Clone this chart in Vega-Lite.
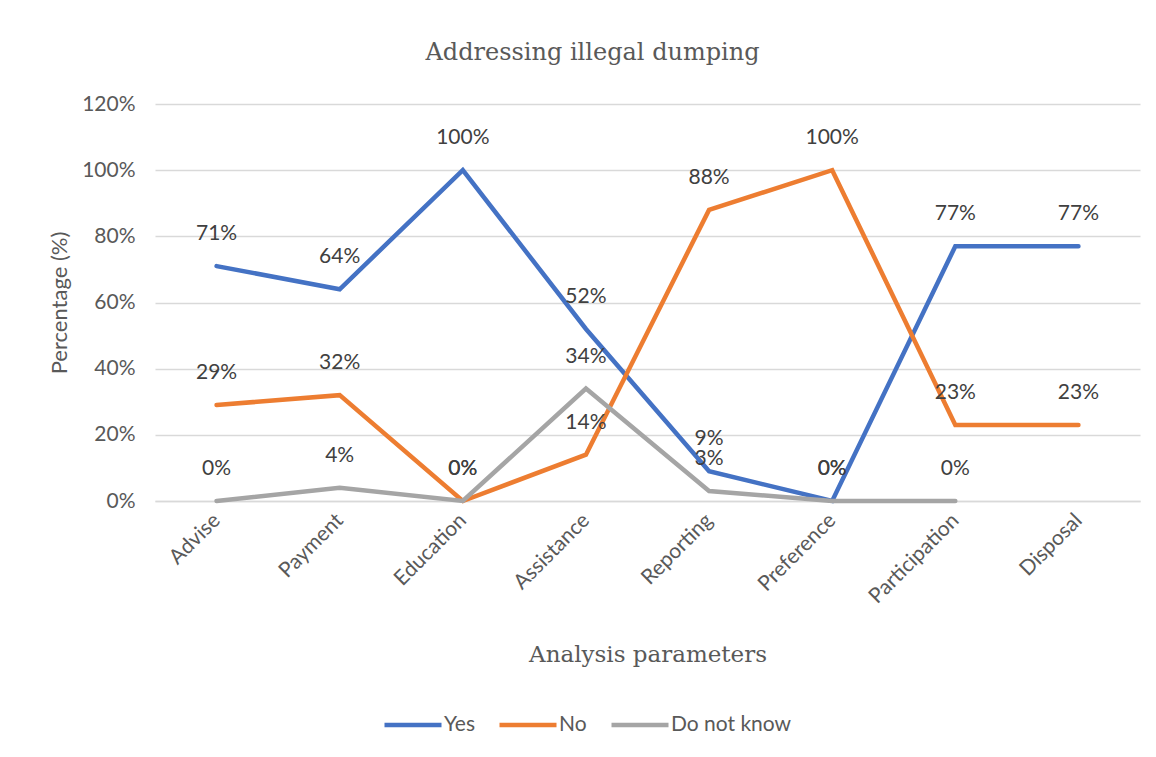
{
  "$schema": "https://vega.github.io/schema/vega-lite/v6.json",
  "width": 985,
  "height": 397,
  "autosize": {"type": "none"},
  "padding": {"left": 155, "top": 104, "right": 16, "bottom": 256},
  "background": "white",
  "title": {
    "text": "Addressing illegal dumping",
    "font": "DejaVu Serif",
    "fontSize": 24,
    "fontWeight": "normal",
    "color": "#595959",
    "anchor": "middle",
    "dx": -55,
    "offset": 28
  },
  "config": {
    "view": {"stroke": null},
    "font": "Lato"
  },
  "data": {
    "values": [
      {"param": "Advise", "series": "Yes", "value": 0.71},
      {"param": "Payment", "series": "Yes", "value": 0.64},
      {"param": "Education", "series": "Yes", "value": 1.0},
      {"param": "Assistance", "series": "Yes", "value": 0.52},
      {"param": "Reporting", "series": "Yes", "value": 0.09},
      {"param": "Preference", "series": "Yes", "value": 0.0},
      {"param": "Participation", "series": "Yes", "value": 0.77},
      {"param": "Disposal", "series": "Yes", "value": 0.77},
      {"param": "Advise", "series": "No", "value": 0.29},
      {"param": "Payment", "series": "No", "value": 0.32},
      {"param": "Education", "series": "No", "value": 0.0},
      {"param": "Assistance", "series": "No", "value": 0.14},
      {"param": "Reporting", "series": "No", "value": 0.88},
      {"param": "Preference", "series": "No", "value": 1.0},
      {"param": "Participation", "series": "No", "value": 0.23},
      {"param": "Disposal", "series": "No", "value": 0.23},
      {"param": "Advise", "series": "Do not know", "value": 0.0},
      {"param": "Payment", "series": "Do not know", "value": 0.04},
      {"param": "Education", "series": "Do not know", "value": 0.0},
      {"param": "Assistance", "series": "Do not know", "value": 0.34},
      {"param": "Reporting", "series": "Do not know", "value": 0.03},
      {"param": "Preference", "series": "Do not know", "value": 0.0},
      {"param": "Participation", "series": "Do not know", "value": 0.0}
    ]
  },
  "encoding": {
    "x": {
      "field": "param",
      "type": "nominal",
      "sort": null,
      "scale": {"type": "point", "padding": 0.5},
      "title": "Analysis parameters",
      "axis": {
        "labelAngle": -45,
        "labelAlign": "right",
        "labelBaseline": "middle",
        "labelFontSize": 21,
        "labelColor": "#595959",
        "labelPadding": 16,
        "ticks": false,
        "domain": true,
        "domainColor": "#D9D9D9",
        "domainWidth": 1.5,
        "titleFont": "DejaVu Serif",
        "titleFontSize": 23,
        "titleFontWeight": "normal",
        "titleColor": "#595959",
        "titlePadding": 37
      }
    },
    "y": {
      "field": "value",
      "type": "quantitative",
      "scale": {"domain": [0, 1.2], "nice": false},
      "title": "Percentage (%)",
      "axis": {
        "values": [0, 0.2, 0.4, 0.6, 0.8, 1.0, 1.2],
        "format": ".0%",
        "labelFontSize": 21,
        "labelColor": "#595959",
        "labelPadding": 20,
        "ticks": false,
        "domain": false,
        "grid": true,
        "gridColor": "#D9D9D9",
        "gridWidth": 1.5,
        "titleFontSize": 22,
        "titleFontWeight": "normal",
        "titleColor": "#595959",
        "titlePadding": 10
      }
    },
    "color": {
      "field": "series",
      "type": "nominal",
      "scale": {
        "domain": ["Yes", "No", "Do not know"],
        "range": ["#4472C4", "#ED7D31", "#A5A5A5"]
      },
      "legend": {
        "title": null,
        "orient": "none",
        "direction": "horizontal",
        "legendX": 227,
        "legendY": 590,
        "symbolType": "stroke",
        "symbolSize": 3249,
        "symbolStrokeWidth": 4.5,
        "labelFontSize": 21,
        "labelColor": "#595959",
        "labelOffset": 0,
        "columnPadding": 15
      }
    }
  },
  "layer": [
    {
      "mark": {"type": "line", "strokeWidth": 4.5, "strokeCap": "round"}
    },
    {
      "mark": {"type": "text", "dy": -32, "fontSize": 21, "color": "#404040", "baseline": "middle"},
      "encoding": {
        "text": {"field": "value", "type": "quantitative", "format": ".0%"},
        "color": {"value": "#404040"}
      }
    }
  ]
}
